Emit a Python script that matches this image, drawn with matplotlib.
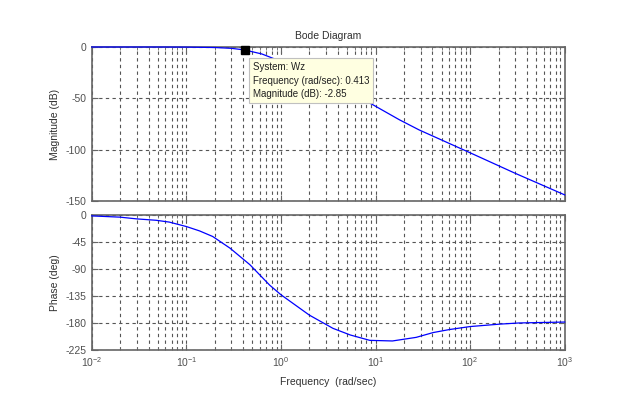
import matplotlib
matplotlib.use('Agg')
import matplotlib.pyplot as plt
from matplotlib.ticker import LogLocator, NullFormatter, FixedLocator

# ---- data ----
mag_freq = [0.01, 0.05, 0.1, 0.2, 0.3, 0.413, 0.63, 1.0, 2.0, 5.0, 9.2, 18.0, 29.0, 100.0, 300.0, 1000.0]
mag_db = [0.0, 0.0, -0.1, -0.5, -1.3, -2.85, -6.8, -14.0, -27.0, -44.0, -55.8, -71.0, -80.8, -103.0, -123.0, -144.0]

ph_freq = [0.01, 0.02, 0.03, 0.048, 0.066, 0.1, 0.138, 0.19, 0.29, 0.47, 0.76, 1.0, 2.0, 3.55, 5.4,
           8.7, 15.1, 26.9, 40.7, 60.3, 100.0, 204.0, 331.0, 1000.0]
ph_deg = [-1.7, -3.8, -6.7, -9.0, -12.0, -19.4, -26.7, -36.0, -55.5, -83.0, -117.0, -133.0, -167.0, -189.0, -200.0,
          -209.0, -210.0, -204.0, -196.0, -191.0, -186.0, -182.0, -180.0, -178.5]

mag_ticks = [0, -50, -100, -150]
ph_ticks = [0, -45, -90, -135, -180, -225]

marker_freq = 0.413
marker_mag = -2.85

plt.rcParams['font.family'] = ['Liberation Sans', 'DejaVu Sans']
plt.rcParams['mathtext.default'] = 'regular'
plt.rcParams['axes.unicode_minus'] = False

fig = plt.figure(figsize=(6.24, 3.95), dpi=100)
ax1 = fig.add_axes([0.147, 0.491, 0.758, 0.390])
ax2 = fig.add_axes([0.147, 0.114, 0.758, 0.342])

frame = '#666666'
gridc = '#555555'
txt = '#303030'

for ax in (ax1, ax2):
    ax.set_xscale('log')
    ax.set_xlim(0.01, 1000)
    ax.xaxis.set_major_locator(LogLocator(base=10, numticks=10))
    ax.xaxis.set_minor_locator(LogLocator(base=10, subs=range(2, 10), numticks=20))
    ax.xaxis.set_minor_formatter(NullFormatter())
    ax.tick_params(which='both', direction='in', top=True, right=True,
                   colors=frame, labelcolor='#505050', labelsize=7.5)
    ax.tick_params(which='major', length=4)
    ax.tick_params(which='minor', length=2.5)
    ax.grid(True, which='both', axis='x', color=gridc, linestyle=(0, (3, 3)), linewidth=0.8)
    ax.grid(True, which='major', axis='y', color=gridc, linestyle=(0, (3, 3)), linewidth=0.8)
    for s in ax.spines.values():
        s.set_color(frame)
        s.set_linewidth(1.2)

# curves drawn over the frame, as in the original
ax1.plot(mag_freq, mag_db, color='#0000ff', linewidth=0.9, zorder=3, clip_on=False)
ax1.set_ylim(-150, 0)
ax1.yaxis.set_major_locator(FixedLocator(mag_ticks))
ax1.set_xticklabels([])
ax1.set_ylabel('Magnitude (dB)', fontsize=7.5, color=txt)
ax1.set_title('Bode Diagram', fontsize=7.5, color=txt, pad=6)
ax1.plot([marker_freq], [marker_mag], marker='s', color='black', markersize=6, clip_on=False, zorder=5)

ax2.plot(ph_freq, ph_deg, color='#0000ff', linewidth=0.9, zorder=3, clip_on=False)
ax2.set_ylim(-225, 0)
ax2.yaxis.set_major_locator(FixedLocator(ph_ticks))
ax2.set_ylabel('Phase (deg)', fontsize=7.5, color=txt)
ax2.set_xlabel('Frequency  (rad/sec)', fontsize=7.5, color=txt, labelpad=6)

# data tip box
fig.text(253 / 624, 1 - 62 / 395,
         'System: Wz\nFrequency (rad/sec): %.3f\nMagnitude (dB): %.2f' % (marker_freq, marker_mag),
         fontsize=7, color='#202020', va='top', ha='left', linespacing=1.45,
         bbox=dict(boxstyle='square,pad=0.4', facecolor='#ffffe1', edgecolor='#c0c0c0', linewidth=0.8))

fig.savefig('out.png', dpi=100)
